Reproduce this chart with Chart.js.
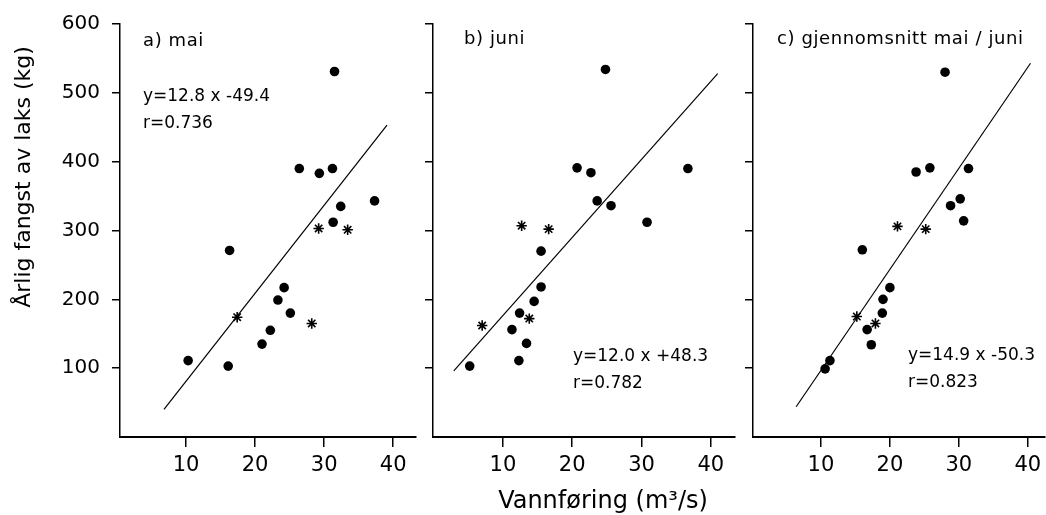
<!DOCTYPE html>
<html><head><meta charset="utf-8">
<script src="https://cdn.jsdelivr.net/npm/chart.js@4.4.1/dist/chart.umd.min.js"></script>
<style>
html,body{margin:0;padding:0;background:#fff;}
#wrap{position:relative;width:1046px;height:515px;overflow:hidden;background:#fff;}
canvas{position:absolute;left:0;top:0;}
</style></head><body><div id="wrap">
<canvas id="ca" width="1046" height="515"></canvas>
<canvas id="cb" width="1046" height="515"></canvas>
<canvas id="cc" width="1046" height="515"></canvas>
</div>
<script>
// ---- data ----
const yTicks = [100, 200, 300, 400, 500, 600];
const xTicks = [10, 20, 30, 40];
const yRange = [0, 600];

const aXRange = [0.43, 43.3];
const aDotsX = [31.5, 26.4, 29.3, 31.2, 32.4, 37.3, 31.3, 16.3, 24.2, 23.3, 25.1, 22.2, 21.0, 10.3, 16.1];
const aDotsY = [531, 390, 383, 390, 335, 343, 312, 271, 217, 199, 180, 155, 135, 111, 103];
const aStarsX = [29.2, 33.4, 17.4, 28.2];
const aStarsY = [303, 301, 174, 165];
const aLineX = [6.8, 39.1];
const aLineY = [40, 453];

const bXRange = [-0.1, 43.5];
const bDotsX = [24.8, 20.7, 22.7, 23.6, 25.6, 36.7, 30.8, 15.5, 15.5, 14.5, 12.4, 11.3, 13.4, 12.3, 5.2];
const bDotsY = [534, 391, 384, 343, 336, 390, 312, 270, 218, 197, 180, 156, 136, 111, 103];
const bStarsX = [12.7, 16.6, 7.0, 13.8];
const bStarsY = [307, 302, 162, 172];
const bLineX = [2.9, 41.0];
const bLineY = [96, 528];

const cXRange = [0.14, 42.5];
const cDotsX = [28.0, 23.8, 25.8, 31.4, 30.2, 28.8, 30.7, 16.0, 20.0, 19.0, 18.9, 16.7, 17.3, 11.3, 10.6];
const cDotsY = [530, 385, 391, 390, 346, 336, 314, 272, 217, 200, 180, 156, 134, 111, 99];
const cStarsX = [21.1, 25.2, 15.2, 17.9];
const cStarsY = [306, 302, 175, 165];
const cLineX = [6.4, 40.4];
const cLineY = [44, 543];

const panelLabels = ['a) mai', 'b) juni', 'c) gjennomsnitt mai / juni'];
const equations = ['y=12.8 x -49.4', 'y=12.0 x +48.3', 'y=14.9 x -50.3'];
const corrs = ['r=0.736', 'r=0.782', 'r=0.823'];
const yTitle = 'Årlig fangst av laks (kg)';
const xTitle = 'Vannføring (m³/s)';

// ---- helpers ----
const FONT = '"DejaVu Sans", sans-serif';
const pts = (xs, ys) => xs.map((x, i) => ({x: x, y: ys[i]}));

function textPlugin(items) {
  return {
    id: 'txt',
    afterDraw(chart) {
      const ctx = chart.ctx;
      ctx.save();
      ctx.fillStyle = '#000';
      ctx.textBaseline = 'alphabetic';
      items.forEach(t => {
        ctx.font = t.font;
        ctx.textAlign = t.align || 'left';
        try { ctx.letterSpacing = t.ls || '0px'; } catch (e) {}
        if (t.rot) {
          ctx.save();
          ctx.translate(t.x, t.y);
          ctx.rotate(-Math.PI / 2);
          ctx.fillText(t.text, 0, 0);
          ctx.restore();
        } else {
          ctx.fillText(t.text, t.x, t.y);
        }
      });
      ctx.restore();
    }
  };
}

function makePanel(id, geo, xRange, dotsX, dotsY, starsX, starsY, lineX, lineY, texts, showYLabels) {
  new Chart(document.getElementById(id), {
    type: 'scatter',
    data: {
      datasets: [
        {data: pts(lineX, lineY), showLine: true, borderColor: '#000', borderWidth: 1.2, pointRadius: 0, fill: false},
        {data: pts(dotsX, dotsY), pointStyle: 'circle', pointRadius: 4.8, backgroundColor: '#000', borderColor: '#000', borderWidth: 0},
        {data: pts(starsX, starsY), pointStyle: 'star', pointRadius: 5.2, backgroundColor: '#000', borderColor: '#000', borderWidth: 1.6}
      ]
    },
    options: {
      responsive: false,
      animation: false,
      events: [],
      layout: {autoPadding: false, padding: {left: geo.left - geo.yW, top: 24, right: 1046 - geo.right, bottom: 0}},
      plugins: {legend: {display: false}, tooltip: {enabled: false}},
      scales: {
        x: {
          type: 'linear', min: xRange[0], max: xRange[1],
          afterBuildTicks: s => { s.ticks = xTicks.map(v => ({value: v})); },
          afterFit: s => { s.height = 78; s.paddingLeft = 0; s.paddingRight = 0; },
          border: {display: true, color: '#000', width: 2},
          grid: {display: true, drawOnChartArea: false, drawTicks: true, tickLength: 10, color: '#000', lineWidth: 1.5},
          ticks: {color: '#000', font: {family: FONT, size: 21}, padding: 6, maxRotation: 0}
        },
        y: {
          type: 'linear', min: yRange[0], max: yRange[1],
          afterBuildTicks: s => { s.ticks = yTicks.map(v => ({value: v})); },
          afterFit: s => { s.width = geo.yW; s.paddingTop = 0; s.paddingBottom = 0; },
          border: {display: true, color: '#000', width: 1.5},
          grid: {display: true, drawOnChartArea: false, drawTicks: true, tickLength: 8, color: '#000', lineWidth: 1.5},
          ticks: {display: showYLabels, color: '#000', font: {family: FONT, size: 20}, padding: 12}
        }
      }
    },
    plugins: [textPlugin(texts)]
  });
}

const LBL = '18px ' + FONT;
const EQ = '17px ' + FONT;

makePanel('ca', {left: 120, right: 416, yW: 120}, aXRange, aDotsX, aDotsY, aStarsX, aStarsY, aLineX, aLineY, [
  {text: panelLabels[0], x: 143, y: 46, font: LBL, ls: '0.6px'},
  {text: equations[0], x: 143, y: 101, font: EQ},
  {text: corrs[0], x: 143, y: 128, font: EQ},
  {text: yTitle, x: 30, y: 177, font: '22px ' + FONT, align: 'center', rot: true}
], true);

makePanel('cb', {left: 433, right: 735, yW: 20}, bXRange, bDotsX, bDotsY, bStarsX, bStarsY, bLineX, bLineY, [
  {text: panelLabels[1], x: 464, y: 44, font: LBL, ls: '0.6px'},
  {text: equations[1], x: 573, y: 361, font: EQ},
  {text: corrs[1], x: 573, y: 388, font: EQ},
  {text: xTitle, x: 603, y: 508, font: '24px ' + FONT, align: 'center'}
], false);

makePanel('cc', {left: 753, right: 1045, yW: 20}, cXRange, cDotsX, cDotsY, cStarsX, cStarsY, cLineX, cLineY, [
  {text: panelLabels[2], x: 777, y: 44, font: LBL, ls: '0.6px'},
  {text: equations[2], x: 908, y: 360, font: EQ},
  {text: corrs[2], x: 908, y: 387, font: EQ}
], false);
</script>
</body></html>
